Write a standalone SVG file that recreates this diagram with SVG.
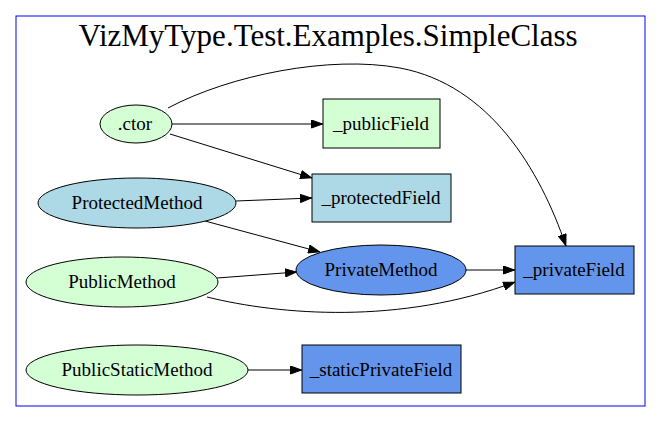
<svg xmlns="http://www.w3.org/2000/svg" width="661" height="423" viewBox="0 0 661 423" font-family="'Liberation Serif', 'Times New Roman', serif">
<defs>
<style>
text{font-family:'Liberation Serif','Times New Roman',serif;font-size:19px;text-anchor:middle;fill:#000}
text.title{font-size:31px}
.n{stroke:#000;stroke-width:1}
.pub{fill:#d4ffd4}
.pro{fill:#add8e6}
.pri{fill:#6495ed}
.e{fill:none;stroke:#000;stroke-width:1;marker-end:url(#ah)}
</style>
<marker id="ah" viewBox="0 0 12 9" refX="12" refY="4.5" markerWidth="12" markerHeight="9" markerUnits="userSpaceOnUse" orient="auto">
<path d="M0.5,0.5 L11.5,4.5 L0.5,8.5 Z" fill="#000" stroke="#000"/>
</marker>
</defs>
<rect width="661" height="423" fill="#fff"/>
<g id="cluster">
<rect x="16" y="16" width="629" height="390" fill="#fff" stroke="#0000ff"/>
<text class="title" x="328" y="46">VizMyType.Test.Examples.SimpleClass</text>
</g>
<g id="edges">
<path class="e" d="M172,124 L323,124"/>
<path class="e" d="M170,134 L312,178"/>
<path class="e" d="M168,108 C230,75 330,55 400,68 C490,85 540,170 566,246"/>
<path class="e" d="M236,201 L312,198"/>
<path class="e" d="M205,221 L320,252"/>
<path class="e" d="M217,278 L297,272"/>
<path class="e" d="M466,270 L515,270"/>
<path class="e" d="M207,297 C280,315 400,325 515,282"/>
<path class="e" d="M248,370 L302,370"/>
</g>
<g id="ctor"><ellipse class="n pub" cx="136" cy="124" rx="36" ry="19"/><text x="135" y="130">.ctor</text></g>
<g id="publicField"><rect class="n pub" x="323" y="99" width="117" height="49"/><text x="381" y="130">_publicField</text></g>
<g id="protectedField"><rect class="n pro" x="312" y="174" width="139" height="48"/><text x="381" y="204">_protectedField</text></g>
<g id="ProtectedMethod"><ellipse class="n pro" cx="137" cy="203" rx="99" ry="25"/><text x="137" y="209">ProtectedMethod</text></g>
<g id="PrivateMethod"><ellipse class="n pri" cx="381" cy="270" rx="85" ry="25"/><text x="381" y="276">PrivateMethod</text></g>
<g id="privateField"><rect class="n pri" x="515" y="246" width="119" height="48"/><text x="574" y="276">_privateField</text></g>
<g id="PublicMethod"><ellipse class="n pub" cx="122" cy="282" rx="96" ry="25"/><text x="122" y="288">PublicMethod</text></g>
<g id="PublicStaticMethod"><ellipse class="n pub" cx="137" cy="370" rx="111" ry="25"/><text x="137" y="376">PublicStaticMethod</text></g>
<g id="staticPrivateField"><rect class="n pri" x="302" y="345" width="159" height="48"/><text x="381" y="376">_staticPrivateField</text></g>
</svg>
